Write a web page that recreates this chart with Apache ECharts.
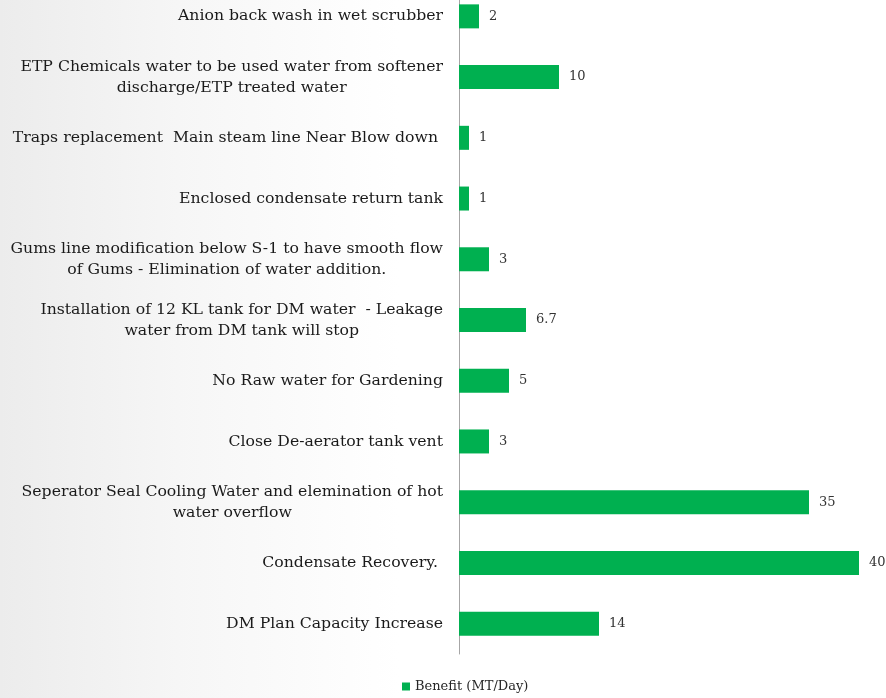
<!DOCTYPE html>
<html>
<head>
<meta charset="utf-8">
<script src="https://cdn.jsdelivr.net/npm/echarts@6/dist/echarts.min.js"></script>
<style>
  html, body { margin: 0; padding: 0; width: 886px; height: 698px; overflow: hidden; }
  body {
    position: relative;
    background: linear-gradient(to right, #ececec 0%, #f6f6f6 20%, #ffffff 45%, #ffffff 100%);
  }
  /* the plot area starts a little above the visible page */
  #chart { position: absolute; left: 0; top: -14px; width: 886px; height: 712px; }
</style>
</head>
<body>
<div id="chart"></div>
<script>
// Water-saving measures and their benefit, top to bottom
const categories = [
  'Anion back wash in wet scrubber',
  'ETP Chemicals water to be used water from softener\ndischarge/ETP treated water',
  'Traps replacement  Main steam line Near Blow down ',
  'Enclosed condensate return tank',
  'Gums line modification below S-1 to have smooth flow\nof Gums - Elimination of water addition.',
  'Installation of 12 KL tank for DM water  - Leakage\nwater from DM tank will stop',
  'No Raw water for Gardening',
  'Close De-aerator tank vent',
  'Seperator Seal Cooling Water and elemination of hot\nwater overflow',
  'Condensate Recovery. ',
  'DM Plan Capacity Increase'
];
const benefit = [2, 10, 1, 1, 3, 6.7, 5, 3, 35, 40, 14];
const seriesName = 'Benefit (MT/Day)';

const FONT = '"DejaVu Serif", serif';
const chart = echarts.init(document.getElementById('chart'));
chart.setOption({
  backgroundColor: 'transparent',
  animation: false,
  grid: { left: 459, right: 27, top: 0, bottom: 44, containLabel: false },
  legend: {
    data: [seriesName],
    left: 397, bottom: 0,
    itemWidth: 8, itemHeight: 8, itemGap: 4,
    icon: 'rect',
    textStyle: { fontFamily: FONT, fontSize: 13, color: '#262626' }
  },
  xAxis: {
    type: 'value', min: 0, max: 40,
    show: false
  },
  yAxis: {
    type: 'category',
    inverse: true,
    data: categories,
    axisLine: { show: true, lineStyle: { color: '#a6a6a6', width: 1 } },
    axisTick: { show: false },
    axisLabel: {
      margin: 16,
      align: 'right',
      formatter: function (v) {
        return v.split('\n').map(function (s) { return '{c|' + s + '}'; }).join('\n');
      },
      rich: {
        c: { align: 'center', fontFamily: FONT, fontSize: 15.7, lineHeight: 21, color: '#1a1a1a' }
      }
    }
  },
  series: [{
    name: seriesName,
    type: 'bar',
    data: benefit,
    barWidth: 24,
    itemStyle: { color: '#00B050' },
    label: {
      show: true, position: 'right', distance: 10,
      fontFamily: FONT, fontSize: 13, color: '#333333'
    }
  }]
});
</script>
</body>
</html>
